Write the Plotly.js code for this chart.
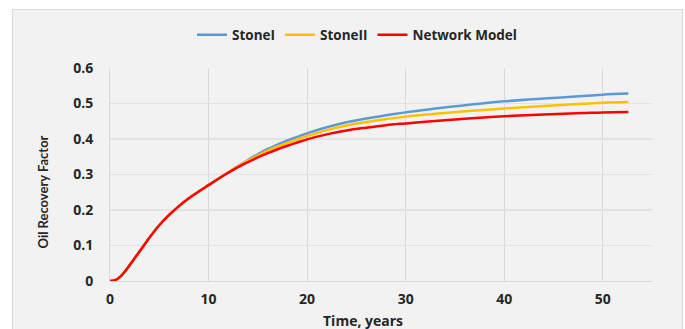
<!DOCTYPE html>
<html>
<head>
<meta charset="utf-8">
<script src="https://cdn.plot.ly/plotly-3.0.1.min.js"></script>
<style>
html,body{margin:0;padding:0;background:#ffffff;width:685px;height:329px;overflow:hidden;}
#frame{position:absolute;left:12px;top:9px;width:669px;height:330px;border:1px solid #d9d9d9;border-bottom:none;background:#f2f2f2;}
#chart{width:669px;height:320px;}
</style>
</head>
<body>
<div id="frame"><div id="chart"></div></div>
<script>
// Time, years
var timeYears = [0, 0.5, 1, 1.5, 2, 2.5, 3, 4, 5, 6, 7, 8, 9, 10, 11, 12, 13, 14, 15, 16, 17, 18, 19, 20, 22, 24, 26, 28, 30, 33, 36, 40, 44, 48, 50, 52.6];
// Oil recovery factor series
var network = [0, 0.002, 0.011, 0.026, 0.045, 0.064, 0.083, 0.122, 0.157, 0.186, 0.211, 0.233, 0.252, 0.270, 0.288, 0.305, 0.321, 0.335, 0.348, 0.360, 0.371, 0.381, 0.390, 0.399, 0.413, 0.424, 0.432, 0.439, 0.444, 0.451, 0.457, 0.464, 0.469, 0.473, 0.475, 0.476];
var stoneI  = [0, 0.002, 0.011, 0.026, 0.045, 0.064, 0.083, 0.122, 0.157, 0.186, 0.211, 0.233, 0.252, 0.270, 0.288, 0.306, 0.324, 0.341, 0.357, 0.372, 0.384, 0.396, 0.406, 0.416, 0.433, 0.447, 0.458, 0.467, 0.475, 0.486, 0.495, 0.506, 0.514, 0.521, 0.525, 0.528];
var stoneII = [0, 0.002, 0.011, 0.026, 0.045, 0.064, 0.083, 0.122, 0.157, 0.186, 0.211, 0.233, 0.252, 0.270, 0.288, 0.306, 0.323, 0.339, 0.353, 0.367, 0.379, 0.389, 0.399, 0.408, 0.425, 0.438, 0.448, 0.456, 0.463, 0.471, 0.478, 0.486, 0.493, 0.499, 0.502, 0.504];
var seriesNames = ["StoneI", "StoneII", "Network Model"];
var xTitle = "Time, years";
var yTitle = "Oil Recovery Factor";

var W = 669, H = 320;
var mL = 97, mR = 30, mT = 58, mB = 49;
var pw = W - mL - mR, ph = H - mT - mB;

function tr(y, name, color) {
  return {x: timeYears, y: y, name: name, type: 'scatter', mode: 'lines',
          line: {color: color, width: 2.5, shape: 'spline', smoothing: 1}};
}
var data = [tr(stoneI, seriesNames[0], '#5b9bd5'), tr(stoneII, seriesNames[1], '#ffc000'), tr(network, seriesNames[2], '#ff0000')];

var tickFont = {family: 'Open Sans, sans-serif', size: 14, color: '#262626', weight: 'bold'};
var layout = {
  width: W, height: H,
  margin: {l: mL, r: mR, t: mT, b: mB, pad: 0, autoexpand: false},
  paper_bgcolor: '#f2f2f2', plot_bgcolor: '#f2f2f2',
  showlegend: true,
  legend: {orientation: 'h', xref: 'container', yref: 'container',
           x: (192 - 13) / W, xanchor: 'left', y: 1 - 25 / H, yanchor: 'middle',
           font: {family: 'Open Sans, sans-serif', size: 13.5, color: '#262626', weight: 'bold'},
           bgcolor: 'rgba(0,0,0,0)', itemwidth: 30, tracegroupgap: 0},
  xaxis: {range: [0, 55], dtick: 10, tick0: 0, showgrid: true, gridcolor: '#d9d9d9', gridwidth: 1,
          zeroline: false, showline: true, linecolor: '#d9d9d9', linewidth: 1, automargin: false,
          ticks: 'outside', ticklen: 5, tickcolor: 'rgba(0,0,0,0)', tickfont: tickFont, fixedrange: true},
  yaxis: {range: [0, 0.6], dtick: 0.1, tick0: 0, showgrid: true, gridcolor: '#e3e3e3', gridwidth: 1.3,
          zeroline: false, showline: true, linecolor: '#d9d9d9', linewidth: 1, automargin: false,
          ticks: 'outside', ticklen: 13, tickcolor: 'rgba(0,0,0,0)', tickfont: tickFont, fixedrange: true},
  annotations: [
    {text: xTitle, xref: 'paper', yref: 'paper', x: (363 - 13 - mL) / pw, y: -(320 - 10 - mT - ph) / ph,
     xanchor: 'center', yanchor: 'middle', showarrow: false,
     font: {family: 'Open Sans, sans-serif', size: 14, color: '#262626', weight: 'bold'}},
    {text: yTitle, xref: 'paper', yref: 'paper', x: -(109.5 - 42) / pw, y: 1 - (192 - 10 - mT) / ph,
     xanchor: 'center', yanchor: 'middle', textangle: -90, showarrow: false,
     font: {family: 'Lato, sans-serif', size: 13, color: '#262626', weight: 'bold'}}
  ]
};
Plotly.newPlot('chart', data, layout, {displayModeBar: false, staticPlot: true});
</script>
</body>
</html>
